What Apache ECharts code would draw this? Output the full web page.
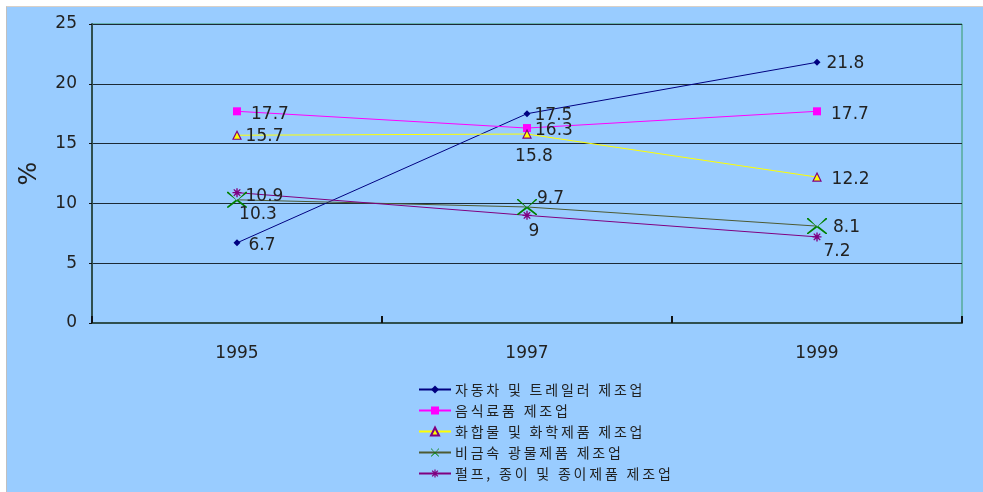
<!DOCTYPE html>
<html>
<head>
<meta charset="utf-8">
<script src="https://cdn.jsdelivr.net/npm/echarts@6/dist/echarts.min.js"></script>
<style>
  html, body { margin: 0; padding: 0; background: #ffffff; }
  #frame { position: absolute; left: 6px; top: 6px; width: 977px; height: 486px;
           border-left: 1px solid #c0c0c0; border-top: 1px solid #d8d0c8; background: #99ccff; }
  #chart { position: absolute; left: 0; top: 0; width: 983px; height: 492px; }
</style>
</head>
<body>
<div id="frame"></div>
<div id="chart"></div>
<script>
// Categories (years) and share (%) of each manufacturing sector
const years = ['1995', '1997', '1999'];
const seriesNames = [
  '자동차 및 트레일러 제조업',
  '음식료품 제조업',
  '화합물 및 화학제품 제조업',
  '비금속 광물제품 제조업',
  '펄프, 종이 및 종이제품 제조업'
];
const autoVals = [6.7, 17.5, 21.8];
const foodVals = [17.7, 16.3, 17.7];
const chemVals = [15.7, 15.8, 12.2];
const mineralVals = [10.3, 9.7, 8.1];
const paperVals = [10.9, 9.0, 7.2];
const yTicks = [0, 5, 10, 15, 20, 25];

// label placement per point: [position, offset]
const autoLbl = [['right', [2, 3]], ['right', [-2, 2]], ['right', [0, 1]]];
const foodLbl = [['right', [4, 3]], ['right', [-2, 3]], ['right', [4, 3]]];
const chemLbl = [['right', [-2, 1]], ['bottom', [7, 3]], ['right', [4, 2]]];
const mineralLbl = [['bottom', [21, -8]], ['right', [-6, -8]], ['right', [0, 1]]];
const paperLbl = [['right', [-2, 4]], ['bottom', [7, -3]], ['bottom', [20, -4]]];

const numFont = 'DejaVu Sans, Verdana, sans-serif';
const xMark = 'path://M0,0L1.4,0L10,8.6L18.6,0L20,0L20,1.1L11.2,8L20,14.9L20,16L18.6,16L10,9.4L1.4,16L0,16L0,14.9L8.8,8L0,1.1Z';
const starMark = 'path://M4.2,0h1.6v3.3l2.4-2.4 1.1,1.1-2.4,2.4h3.3v1.6h-3.3l2.4,2.4-1.1,1.1-2.4-2.4v3.3h-1.6v-3.3l-2.4,2.4-1.1-1.1 2.4-2.4h-3.3v-1.6h3.3l-2.4-2.4 1.1-1.1 2.4,2.4z';

function pts(vals, lbls) {
  return vals.map((v, i) => ({
    value: v,
    label: { position: lbls[i][0], offset: lbls[i][1] }
  }));
}

const labelBase = {
  show: true, color: '#222222', fontSize: 17,
  fontFamily: numFont, distance: 6
};

function mk(name, vals, lbls, lineColor, symbol, size, fill, border) {
  return {
    name: name, type: 'line', data: pts(vals, lbls),
    symbol: symbol, symbolSize: size, showSymbol: true,
    lineStyle: { color: lineColor, width: 1 },
    itemStyle: { color: fill, borderColor: border || fill, borderWidth: border ? 1.2 : 0 },
    label: Object.assign({}, labelBase),
    emphasis: { disabled: true },
    z: 3
  };
}

const chart = echarts.init(document.getElementById('chart'), null, { renderer: 'canvas' });
chart.setOption({
  animation: false,
  backgroundColor: 'transparent',
  grid: { left: 92, right: 21, top: 24, bottom: 169, show: true, borderColor: '#339966', borderWidth: 1, backgroundColor: 'transparent' },
  xAxis: {
    type: 'category', data: years, boundaryGap: true,
    axisLine: { lineStyle: { color: '#2f4f4f', width: 2 } },
    axisTick: { show: true, inside: true, length: 7, lineStyle: { color: '#111', width: 2 } },
    axisLabel: { color: '#222', fontSize: 17, margin: 22, fontFamily: numFont }
  },
  yAxis: {
    type: 'value', min: yTicks[0], max: yTicks[yTicks.length - 1], interval: 5,
    name: '%', nameLocation: 'middle', nameGap: 50, nameRotate: 90,
    nameTextStyle: { color: '#222', fontSize: 25, fontFamily: numFont },
    axisLine: { show: true, lineStyle: { color: '#2f4f4f', width: 2 } },
    axisTick: { show: true, length: 3, lineStyle: { color: '#111' } },
    splitLine: { show: true, lineStyle: { color: '#1c2a36', width: 1 } },
    axisLabel: { color: '#222', fontSize: 17, margin: 15, fontFamily: numFont }
  },
  legend: {
    orient: 'vertical', left: 413, top: 377, itemGap: 6, itemWidth: 32, itemHeight: 10,
    textStyle: { color: '#222', fontSize: 14, lineHeight: 15, fontFamily: 'Noto Sans CJK KR, sans-serif', padding: [0, 0, 0, -1] },
    // Gulim-style wide character spacing
    formatter: name => name.split('').join('\u2009'),
    data: seriesNames
  },
  series: [
    mk(seriesNames[0], autoVals, autoLbl, '#000080', 'diamond', 7, '#000080'),
    mk(seriesNames[1], foodVals, foodLbl, '#ff00ff', 'rect', 8, '#ff00ff'),
    mk(seriesNames[2], chemVals, chemLbl, '#ffff00', 'triangle', 8, '#ffff00', '#800080'),
    mk(seriesNames[3], mineralVals, mineralLbl, '#4d5a33', xMark, [20, 16], '#008000'),
    mk(seriesNames[4], paperVals, paperLbl, '#800080', starMark, 9, '#800080')
  ]
});
</script>
</body>
</html>
